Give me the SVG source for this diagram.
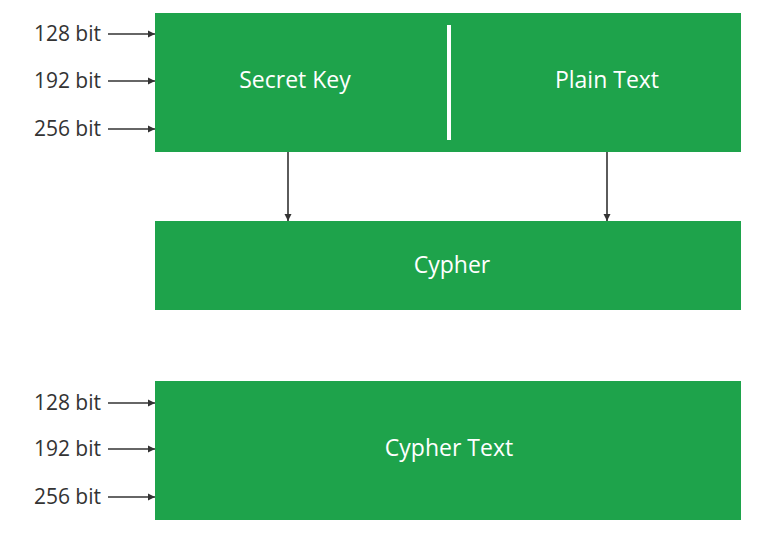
<svg xmlns="http://www.w3.org/2000/svg" width="768" height="541" viewBox="0 0 768 541">
<style>
.box{fill:#1EA34B}
.lbl{font-family:"Open Sans","Liberation Sans",sans-serif;font-size:21px;fill:#333333;text-anchor:end}
.wt{font-family:"Open Sans","Liberation Sans",sans-serif;font-size:23px;fill:#ffffff;text-anchor:middle}
.ln{stroke:#333333;stroke-width:1.6;fill:none;marker-end:url(#ah)}
</style>
<defs>
<marker id="ah" markerWidth="8" markerHeight="8" refX="7" refY="4" orient="auto" markerUnits="userSpaceOnUse">
<path d="M0,0.5 L7,4 L0,7.5 Z" fill="#333333"/>
</marker>
</defs>
<rect width="768" height="541" fill="#ffffff"/>
<g id="input">
<rect class="box" x="155" y="13" width="586" height="139"/>
<rect x="447" y="25" width="4" height="115" fill="#ffffff"/>
<text class="wt" x="295" y="88">Secret Key</text>
<text class="wt" x="607" y="88">Plain Text</text>
</g>
<g id="cypher">
<rect class="box" x="155" y="221" width="586" height="89"/>
<text class="wt" x="452" y="273">Cypher</text>
</g>
<g id="cyphertext">
<rect class="box" x="155" y="381" width="586" height="139"/>
<text class="wt" x="449" y="456">Cypher Text</text>
</g>
<g id="labels">
<text class="lbl" x="101" y="41">128 bit</text>
<text class="lbl" x="101" y="88">192 bit</text>
<text class="lbl" x="101" y="136">256 bit</text>
<text class="lbl" x="101" y="410">128 bit</text>
<text class="lbl" x="101" y="456">192 bit</text>
<text class="lbl" x="101" y="504">256 bit</text>
</g>
<g id="connectors">
<line class="ln" x1="108" y1="34" x2="155" y2="34"/>
<line class="ln" x1="108" y1="81" x2="155" y2="81"/>
<line class="ln" x1="108" y1="129" x2="155" y2="129"/>
<line class="ln" x1="108" y1="403" x2="155" y2="403"/>
<line class="ln" x1="108" y1="449" x2="155" y2="449"/>
<line class="ln" x1="108" y1="497" x2="155" y2="497"/>
<line class="ln" x1="288" y1="152" x2="288" y2="221"/>
<line class="ln" x1="607" y1="152" x2="607" y2="221"/>
</g>
</svg>
